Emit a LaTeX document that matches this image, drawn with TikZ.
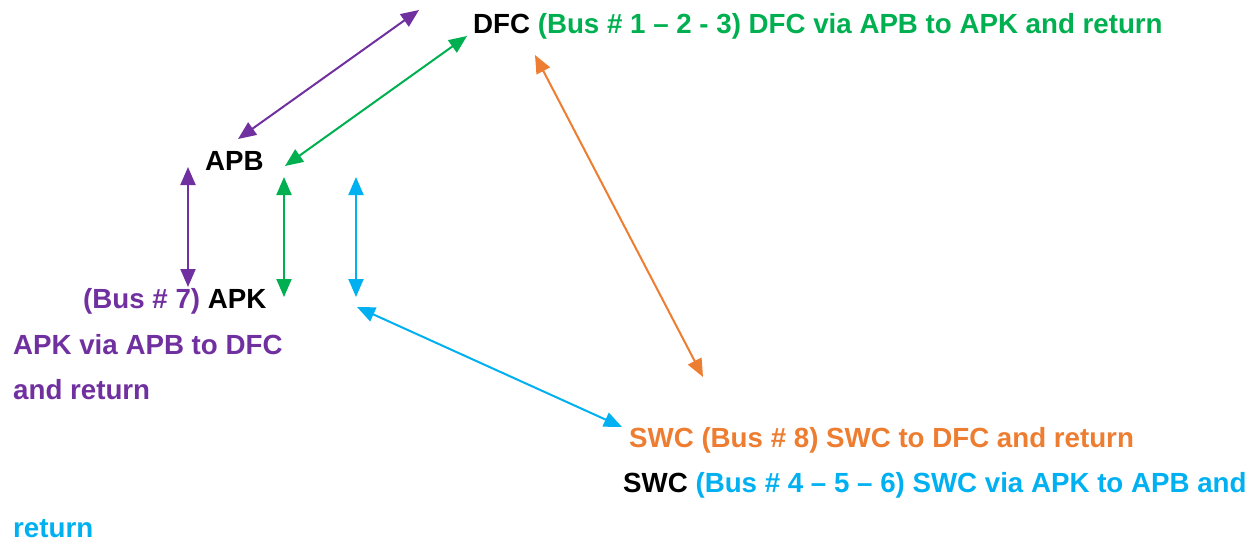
\documentclass[tikz,border=0pt]{standalone}
\usepackage{fontspec}
\setmainfont{Liberation Sans}
\usetikzlibrary{arrows.meta}
\definecolor{cpurple}{RGB}{112,48,160}
\definecolor{cgreen}{RGB}{0,176,80}
\definecolor{cblue}{RGB}{0,176,240}
\definecolor{corange}{RGB}{237,125,49}
\begin{document}
\begin{tikzpicture}[x=1pt,y=-1pt,
  lbl/.style={anchor=base west,inner sep=0pt,font=\fontsize{27.7}{33}\selectfont\bfseries},
  link/.style={line width=2pt,{Triangle[length=18pt,width=15pt]}-{Triangle[length=18pt,width=15pt]}}]
\useasboundingbox (0,0) rectangle (1258,542);
% texts
\node[lbl] (dfc) at (473,33) {DFC \textcolor{cgreen}{(Bus \# 1 – 2 - 3) DFC via APB to APK and return}};
\node[lbl] (apb) at (205,170) {APB};
\node[lbl] (apk) at (83,308) {\textcolor{cpurple}{(Bus \# 7)} APK};
\node[lbl,text=cpurple] (apkl1) at (13,354) {APK via APB to DFC};
\node[lbl,text=cpurple] (apkl2) at (13,399) {and return};
\node[lbl,text=corange] (swc8) at (629,447) {SWC (Bus \# 8) SWC to DFC and return};
\node[lbl] (swc) at (623,492) {SWC \textcolor{cblue}{(Bus \# 4 – 5 – 6) SWC via APK to APB and}};
\node[lbl,text=cblue] (swcl2) at (13,537) {return};
% arrow endpoints
\coordinate (p1a) at (238,139); \coordinate (p1b) at (419,10);
\coordinate (g1a) at (285,166); \coordinate (g1b) at (467,36);
\coordinate (p2a) at (188,167); \coordinate (p2b) at (188,287);
\coordinate (g2a) at (284,177); \coordinate (g2b) at (284,297);
\coordinate (b1a) at (356,177); \coordinate (b1b) at (356,297);
\coordinate (b2a) at (357,307); \coordinate (b2b) at (622,427);
\coordinate (o1a) at (535,55); \coordinate (o1b) at (703,377);
% connectors
\draw[link,cpurple] (p1a) -- (p1b);
\draw[link,cgreen] (g1a) -- (g1b);
\draw[link,cpurple] (p2a) -- (p2b);
\draw[link,cgreen] (g2a) -- (g2b);
\draw[link,cblue] (b1a) -- (b1b);
\draw[link,cblue] (b2a) -- (b2b);
\draw[link,corange] (o1a) -- (o1b);
\end{tikzpicture}
\end{document}
